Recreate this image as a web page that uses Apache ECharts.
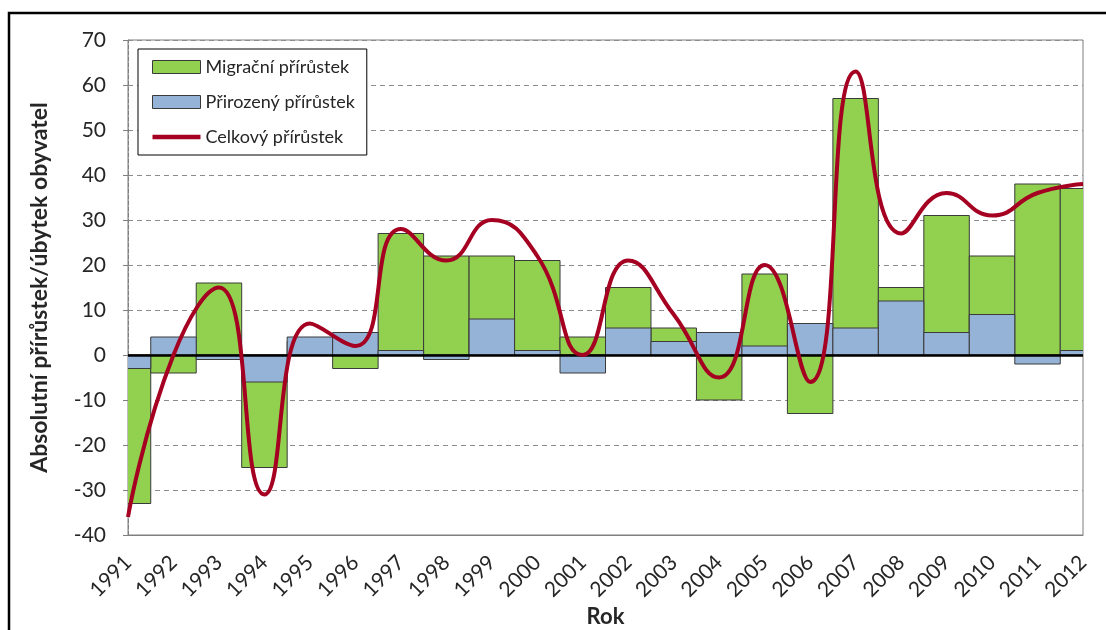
<!DOCTYPE html>
<html>
<head>
<meta charset="utf-8">
<script src="https://cdn.jsdelivr.net/npm/echarts@6/dist/echarts.min.js"></script>
<style>
  html, body { margin: 0; padding: 0; background: #fff; }
  #chart { width: 1106px; height: 630px; }
</style>
</head>
<body>
<div id="chart"></div>
<script>
const years = ['1991', '1992', '1993', '1994', '1995', '1996', '1997', '1998', '1999', '2000', '2001',
  '2002', '2003', '2004', '2005', '2006', '2007', '2008', '2009', '2010', '2011', '2012'];
const migration = [-33, -4, 16, -25, 3, -3, 27, 22, 22, 21, 4, 15, 6, -10, 18, -13, 57, 15, 31, 22, 38, 37];
const natural = [-3, 4, -1, -6, 4, 5, 1, -1, 8, 1, -4, 6, 3, 5, 2, 7, 6, 12, 5, 9, -2, 1];
const total = [-36, 0, 15, -31, 7, 2, 28, 21, 30, 22, 0, 21, 9, -5, 20, -6, 63, 27, 36, 31, 36, 38];

const font = 'Lato, "Open Sans", sans-serif';
const green = '#92D050';
const blue = '#95B3D7';
const red = '#A50021';
const edge = '#3a3a3a';

// columns centred on each year, one full band wide, clipped at the plot edges
function columns(fill) {
  return function (params, api) {
    const base = api.coord([api.value(0), 0]);
    const top = api.coord([api.value(0), api.value(1)]);
    const w = api.size([1, 0])[0];
    return {
      type: 'rect',
      shape: {
        x: base[0] - w / 2,
        y: Math.min(base[1], top[1]),
        width: w,
        height: Math.abs(top[1] - base[1])
      },
      style: { fill: fill, stroke: edge, lineWidth: 1 }
    };
  };
}

const chart = echarts.init(document.getElementById('chart'));

const option = {
  backgroundColor: '#fff',
  animation: false,
  textStyle: { fontFamily: font, color: '#262626' },
  graphic: [
    {
      type: 'rect',
      shape: { x: 9, y: 13, width: 1120, height: 650 },
      style: { fill: 'none', stroke: '#000', lineWidth: 2.5 },
      silent: true
    }
  ],
  grid: {
    left: 128,
    right: 23,
    top: 40,
    bottom: 95,
    outerBoundsMode: 'none',
    containLabel: false,
    show: true,
    borderColor: '#7f7f7f',
    borderWidth: 1
  },
  legend: {
    orient: 'vertical',
    left: 138,
    top: 49,
    padding: [9, 12, 9, 14],
    itemWidth: 48,
    itemHeight: 13,
    itemGap: 17,
    backgroundColor: '#fff',
    borderColor: '#000',
    borderWidth: 1,
    textStyle: { fontFamily: font, fontSize: 18, color: '#262626' },
    data: [
      { name: 'Migrační přírůstek', icon: 'rect', itemStyle: { color: green, borderColor: edge, borderWidth: 1 } },
      { name: 'Přirozený přírůstek', icon: 'rect', itemStyle: { color: blue, borderColor: edge, borderWidth: 1 } },
      { name: 'Celkový přírůstek', icon: 'path://M0,0H48V4.5H0Z', itemStyle: { color: red, borderWidth: 0 } }
    ]
  },
  xAxis: {
    type: 'category',
    data: years,
    boundaryGap: false,
    name: 'Rok',
    nameLocation: 'middle',
    nameGap: 71,
    nameMoveOverlap: false,
    nameTextStyle: { fontFamily: font, fontSize: 22, fontWeight: 'bold', color: '#262626' },
    axisLine: { onZero: false, lineStyle: { color: '#7f7f7f', width: 1 } },
    axisTick: { show: false },
    axisLabel: { rotate: 45, fontSize: 21, margin: 24, color: '#262626', interval: 0 },
    splitLine: { show: false }
  },
  yAxis: {
    type: 'value',
    min: -40,
    max: 70,
    interval: 10,
    name: 'Absolutní přírůstek/úbytek obyvatel',
    nameLocation: 'middle',
    nameGap: 77,
    nameMoveOverlap: false,
    nameTextStyle: { fontFamily: font, fontSize: 23, fontWeight: 'bold', color: '#262626' },
    axisLine: { show: true, lineStyle: { color: '#7f7f7f', type: 'dashed', width: 1 } },
    axisTick: { show: true, length: 5, lineStyle: { color: '#7f7f7f' } },
    axisLabel: { fontSize: 21, margin: 22, color: '#262626' },
    splitLine: { lineStyle: { color: '#8c8c8c', type: [5, 4], width: 1 } }
  },
  series: [
    {
      name: 'Migrační přírůstek',
      type: 'custom',
      clip: true,
      renderItem: columns(green),
      encode: { x: 0, y: 1 },
      itemStyle: { color: green },
      data: migration.map((v, i) => [i, v])
    },
    {
      name: 'Přirozený přírůstek',
      type: 'custom',
      clip: true,
      renderItem: columns(blue),
      encode: { x: 0, y: 1 },
      itemStyle: { color: blue },
      data: natural.map((v, i) => [i, v]),
      markLine: {
        silent: true,
        symbol: 'none',
        label: { show: false },
        lineStyle: { color: '#000', type: 'solid', width: 2.5 },
        data: [{ yAxis: 0 }]
      }
    },
    {
      name: 'Celkový přírůstek',
      type: 'line',
      data: total,
      smooth: 0.5,
      symbol: 'none',
      lineStyle: { color: red, width: 4 },
      itemStyle: { color: red },
      z: 5
    }
  ]
};

option && chart.setOption(option);
</script>
</body>
</html>
